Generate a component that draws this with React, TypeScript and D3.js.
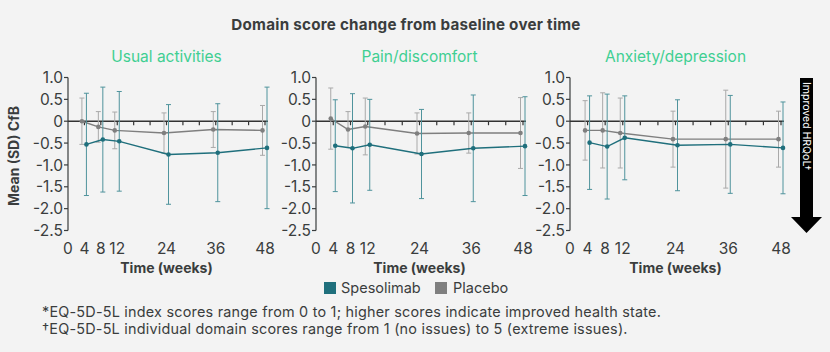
import React from 'react';
import * as d3 from 'd3';

const weeks = [4, 8, 12, 24, 36, 48];
const xTickLabels = [0, 4, 8, 12, 24, 36, 48];
const yTicks = [1.0, 0.5, 0, -0.5, -1.0, -1.5, -2.0, -2.5];
const domains = ['Usual activities', 'Pain/discomfort', 'Anxiety/depression'];

// Spesolimab mean / SD per domain
const usualSpeMean = [-0.53, -0.42, -0.46, -0.76, -0.72, -0.61];
const usualSpeSd = [1.17, 1.2, 1.14, 1.14, 1.12, 1.39];
const painSpeMean = [-0.56, -0.62, -0.54, -0.75, -0.62, -0.57];
const painSpeSd = [1.05, 1.25, 1.04, 1.02, 1.22, 1.13];
const anxSpeMean = [-0.49, -0.58, -0.38, -0.55, -0.53, -0.61];
const anxSpeSd = [1.07, 1.2, 0.96, 1.04, 1.12, 1.05];

// Placebo mean / SD per domain
const usualPlaMean = [0, -0.13, -0.21, -0.27, -0.19, -0.21];
const usualPlaSd = [0.53, 0.35, 0.42, 0.46, 0.41, 0.57];
const painPlaMean = [0.06, -0.19, -0.12, -0.28, -0.27, -0.27];
const painPlaSd = [0.7, 0.41, 0.65, 0.47, 0.46, 0.81];
const anxPlaMean = [-0.21, -0.21, -0.27, -0.41, -0.41, -0.41];
const anxPlaSd = [0.68, 0.86, 0.8, 0.64, 1.12, 0.64];

const speMeans = [usualSpeMean, painSpeMean, anxSpeMean];
const speSds = [usualSpeSd, painSpeSd, anxSpeSd];
const plaMeans = [usualPlaMean, painPlaMean, anxPlaMean];
const plaSds = [usualPlaSd, painPlaSd, anxPlaSd];

const W = 830;
const H = 352;
const BG = '#f3f3f3';
const TEAL = '#1f6f7c';
const TEAL_BAR = '#4f939c';
const GREY = '#7f7f7f';
const GREY_BAR = '#a9a9a9';
const MINT = '#3fcf92';
const TEXT = '#3a3d3d';
const FONT = 'Inter, Roboto, sans-serif';

// panel layout (axis origin / week-48 position)
const panelX = [[68, 265], [316, 523], [570, 781]];
const yTop = 77.5;
const yBottom = 230.5;

type SeriesProps = {
  x: d3.ScaleLinear<number, number>;
  y: d3.ScaleLinear<number, number>;
  mean: number[];
  sd: number[];
  dx: number;
  line: string;
  bar: string;
};

const Series = ({ x, y, mean, sd, dx, line, bar }: SeriesProps) => {
  const pts = weeks.map((w, i) => [x(w) + dx, y(mean[i])] as [number, number]);
  const path = d3.line()(pts) || '';
  return (
    <g>
      {weeks.map((w, i) => {
        const cx = x(w) + dx;
        const y1 = y(mean[i] + sd[i]);
        const y2 = y(mean[i] - sd[i]);
        return (
          <g key={w} stroke={bar} strokeWidth={1}>
            <line x1={cx} x2={cx} y1={y1} y2={y2} />
            <line x1={cx - 2.5} x2={cx + 2.5} y1={y1} y2={y1} />
            <line x1={cx - 2.5} x2={cx + 2.5} y1={y2} y2={y2} />
          </g>
        );
      })}
      <path d={path} fill="none" stroke={line} strokeWidth={1.4} />
      {pts.map((p, i) => (
        <circle key={i} cx={p[0]} cy={p[1]} r={2.3} fill={line} />
      ))}
    </g>
  );
};

const Panel = ({ idx }: { idx: number }) => {
  const [x0, x1] = panelX[idx];
  const x = d3.scaleLinear().domain([0, 48]).range([x0, x1]);
  const y = d3.scaleLinear().domain([-2.5, 1.0]).range([yBottom, yTop]);
  const zeroTicks = d3.range(4, 49, 4);
  return (
    <g>
      <text x={(x0 + x1) / 2} y={62} textAnchor="middle" fill={MINT} fontSize={15.5} fontFamily={FONT}>
        {domains[idx]}
      </text>
      {/* y axis */}
      <line x1={x0} x2={x0} y1={yTop} y2={yBottom} stroke={TEXT} strokeWidth={1.2} />
      {yTicks.map(t => (
        <g key={t}>
          <line x1={x0 - 4} x2={x0} y1={y(t)} y2={y(t)} stroke={TEXT} strokeWidth={1.2} />
          <text x={x0 - 5} y={y(t)} dy="0.36em" textAnchor="end" fontSize={15.5} fill={TEXT} fontFamily={FONT}>
            {t === 0 ? '0' : t.toFixed(1)}
          </text>
        </g>
      ))}
      {/* zero line with week ticks */}
      <line x1={x0} x2={x1 + 3} y1={y(0)} y2={y(0)} stroke="#333" strokeWidth={1.5} />
      {zeroTicks.map(w => (
        <line key={w} x1={x(w)} x2={x(w)} y1={y(0)} y2={y(0) + 4} stroke="#333" strokeWidth={1.2} />
      ))}
      <Series x={x} y={y} mean={plaMeans[idx]} sd={plaSds[idx]} dx={-2.5} line={GREY} bar={GREY_BAR} />
      <Series x={x} y={y} mean={speMeans[idx]} sd={speSds[idx]} dx={2} line={TEAL} bar={TEAL_BAR} />
      {xTickLabels.map(t => (
        <text key={t} x={x(t)} y={254} textAnchor="middle" fontSize={15.5} fill={TEXT} fontFamily={FONT}>
          {t}
        </text>
      ))}
      <text x={(x0 + x1) / 2} y={273} textAnchor="middle" fontSize={14} fontWeight="bold" fill={TEXT} fontFamily={FONT}>
        Time (weeks)
      </text>
    </g>
  );
};

export default function App() {
  return (
    <svg width={W} height={H} style={{ position: 'absolute', left: 0, top: 0, background: BG }}>
      <rect width={W} height={H} fill={BG} />
      <text x={406} y={30} textAnchor="middle" fontSize={15.2} letterSpacing={0.25} fontWeight="bold" fill={TEXT} fontFamily={FONT}>
        Domain score change from baseline over time
      </text>
      <text transform="translate(19,156) rotate(-90)" textAnchor="middle" fontSize={14} fontWeight="bold" fill={TEXT} fontFamily={FONT}>
        Mean (SD) CfB
      </text>
      {domains.map((d, i) => (
        <Panel key={d} idx={i} />
      ))}
      {/* improved HRQoL arrow */}
      <path d="M800,78 L813,78 L813,217 L822,217 L806.5,233 L791,217 L800,217 Z" fill="#000" />
      <text transform="translate(806.5,82) rotate(90)" fontSize={10.5} fill="#fff" fontFamily={FONT} dy="0.35em">
        Improved HRQoL†
      </text>
      {/* legend */}
      <rect x={324} y={282} width={12} height={12} fill={TEAL} />
      <text x={341} y={293} fontSize={14.5} fill={TEXT} fontFamily={FONT}>Spesolimab</text>
      <rect x={435} y={282} width={12} height={12} fill={GREY} />
      <text x={453} y={293} fontSize={14.5} fill={TEXT} fontFamily={FONT}>Placebo</text>
      {/* footnotes */}
      <text x={42} y={317} fontSize={14.4} letterSpacing={0.22} fill={TEXT} fontFamily={FONT}>
        *EQ-5D-5L index scores range from 0 to 1; higher scores indicate improved health state.
      </text>
      <text x={42} y={334} fontSize={14.4} letterSpacing={0.22} fill={TEXT} fontFamily={FONT}>
        †EQ-5D-5L individual domain scores range from 1 (no issues) to 5 (extreme issues).
      </text>
    </svg>
  );
}
